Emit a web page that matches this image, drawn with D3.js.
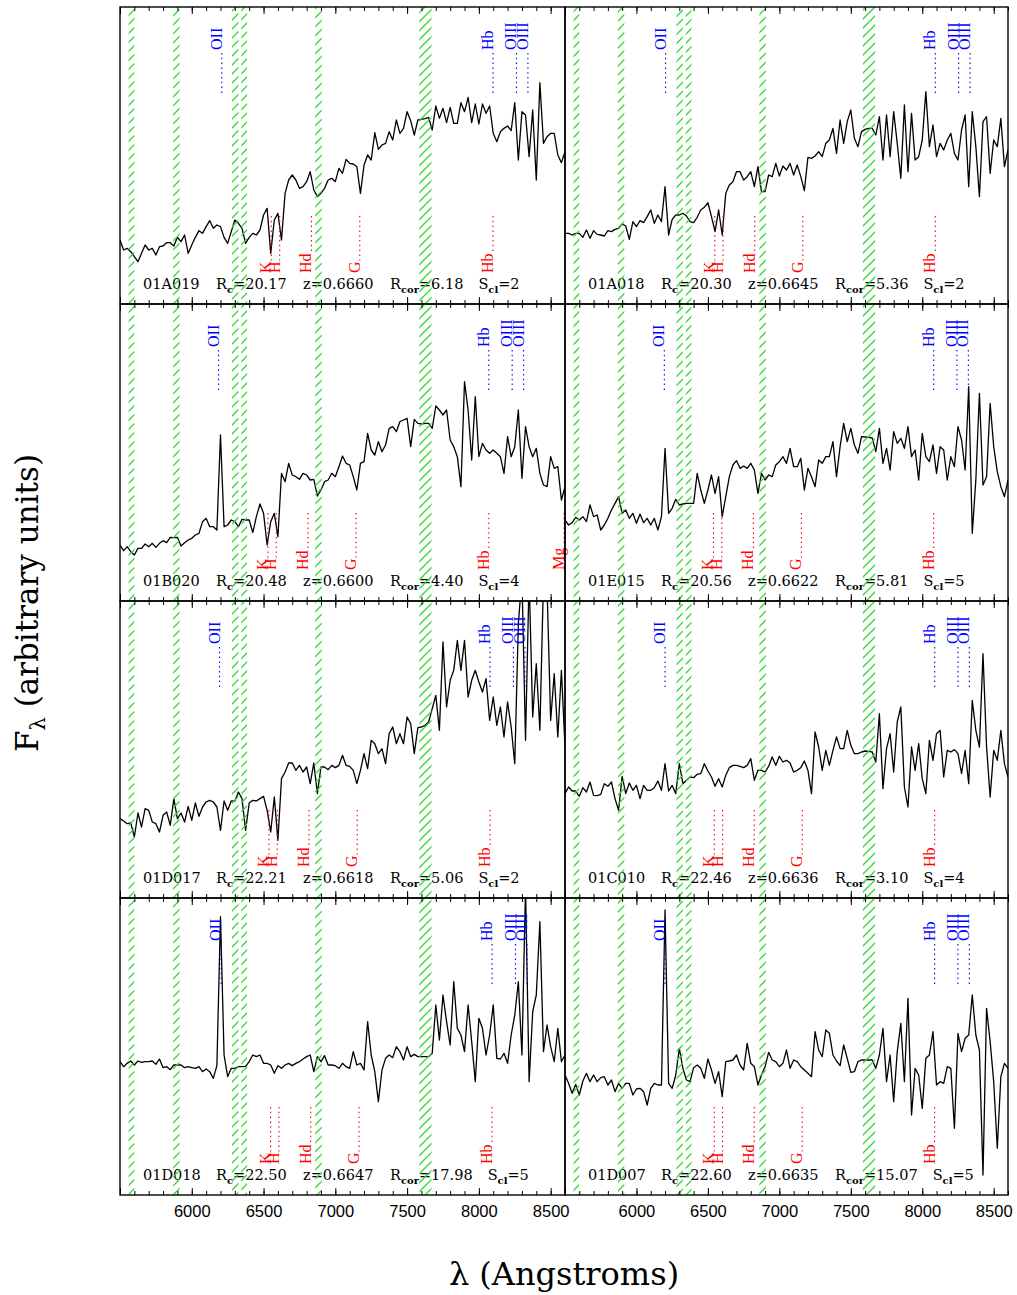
<!DOCTYPE html>
<html>
<head>
<meta charset="utf-8">
<script src="https://cdn.jsdelivr.net/npm/d3@7"></script>
<style>
  body { margin: 0; background: #fff; }
  svg { display: block; }
</style>
</head>
<body>
<svg id="chart" width="1017" height="1295"></svg>
<script>
// Common observed-frame wavelength grid (Angstroms) for all spectra
const wavelength = [
  5500,5525,5550,5575,5600,5625,5650,5675,5700,5725,
  5750,5775,5800,5825,5850,5875,5900,5925,5950,5975,
  6000,6025,6050,6075,6100,6125,6150,6175,6200,6225,
  6250,6275,6300,6325,6350,6375,6400,6425,6450,6475,
  6500,6525,6550,6575,6600,6625,6650,6675,6700,6725,
  6750,6775,6800,6825,6850,6875,6900,6925,6950,6975,
  7000,7025,7050,7075,7100,7125,7150,7175,7200,7225,
  7250,7275,7300,7325,7350,7375,7400,7425,7450,7475,
  7500,7525,7550,7575,7600,7625,7650,7675,7700,7725,
  7750,7775,7800,7825,7850,7875,7900,7925,7950,7975,
  8000,8025,8050,8075,8100,8125,8150,8175,8200,8225,
  8250,8275,8300,8325,8350,8375,8400,8425,8450,8475,
  8500,8525,8550,8575,8600
];

// Fluxes (arbitrary units) on the grid above, one array per galaxy
const flux01A019 = [
  192,162,167,157,142,127,152,177,162,167,
  147,172,174,184,184,174,200,187,207,152,
  177,200,220,212,232,250,227,237,232,200,
  182,217,252,242,227,182,200,212,207,222,
  267,287,152,252,272,192,332,372,387,372,
  347,352,367,397,342,322,332,347,372,377,
  367,407,392,434,422,420,412,332,417,447,
  432,514,464,477,482,517,492,552,512,527,
  577,550,507,552,554,556,560,522,594,557,
  587,544,590,542,542,604,577,620,544,600,
  540,600,572,594,512,487,517,527,534,520,
  604,432,577,567,442,582,372,664,482,502,
  512,512,447,424,457
];
const flux01A018 = [
  212,212,207,212,212,200,222,197,220,209,
  207,204,220,217,224,227,240,234,194,247,
  232,250,244,262,282,242,267,247,352,207,
  254,267,267,272,264,247,244,260,282,290,
  304,262,217,282,207,332,357,367,397,397,
  372,382,397,352,412,337,337,387,382,422,
  384,414,402,422,387,417,382,340,440,437,
  444,457,442,482,492,527,452,552,482,547,
  582,497,472,517,524,527,527,507,562,432,
  567,442,577,482,377,597,397,572,432,442,
  492,637,472,537,442,482,462,492,512,452,
  432,522,567,352,577,472,322,547,562,392,
  492,472,557,412,462
];
const flux01B020 = [
  168,151,163,148,138,158,158,171,163,173,
  161,173,181,175,191,190,191,165,175,183,
  188,198,203,238,248,223,223,213,498,223,
  228,243,238,223,245,243,243,205,253,291,
  263,168,238,263,193,383,358,413,378,373,
  365,383,378,363,365,315,333,358,363,383,
  373,403,435,413,408,373,333,413,418,503,
  453,438,478,448,468,518,523,508,538,543,
  548,463,545,533,531,533,533,518,585,573,
  558,573,483,463,433,343,658,573,423,613,
  433,473,453,443,453,443,433,383,493,433,
  463,573,368,523,463,433,458,383,348,343,
  433,398,403,303,343
];
const flux01E015 = [
  243,228,235,251,243,253,238,288,253,258,
  213,228,248,273,293,313,263,273,248,263,
  233,261,235,248,228,248,213,253,458,263,
  278,305,288,291,293,293,293,383,333,293,
  333,378,323,373,253,313,373,408,421,398,
  405,398,413,393,323,383,363,378,373,408,
  418,433,413,458,403,403,428,333,398,373,
  343,423,413,433,433,478,373,463,533,478,
  518,468,443,493,492,491,489,448,518,413,
  458,393,508,473,488,458,523,433,453,363,
  503,433,418,468,383,463,453,363,433,403,
  523,483,393,643,203,363,623,348,373,593,
  463,388,343,313,363
];
const flux01D017 = [
  238,231,223,225,183,255,213,268,263,228,
  223,198,248,258,218,298,238,255,228,275,
  233,285,245,273,288,293,288,273,203,291,
  263,291,291,318,298,203,285,293,291,298,
  305,263,198,303,173,358,378,405,405,383,
  398,378,393,343,405,313,393,393,385,398,
  391,398,428,398,395,383,343,383,433,388,
  473,463,433,448,403,493,513,463,493,463,
  543,523,433,511,513,518,528,568,608,503,
  768,573,653,683,773,683,773,603,653,683,
  648,618,658,533,603,518,573,483,588,513,
  403,823,963,473,963,543,703,503,953,933,
  533,673,483,683,453
];
const flux01C010 = [
  313,333,321,321,305,331,318,348,308,307,
  311,343,335,348,298,263,365,313,345,323,
  338,298,338,323,323,331,351,323,403,321,
  338,313,403,343,353,363,361,371,373,403,
  381,363,335,358,333,368,391,398,398,395,
  391,398,418,353,383,383,378,395,423,398,
  425,408,413,405,378,383,391,411,383,313,
  498,453,383,443,398,443,483,448,448,503,
  458,433,433,438,441,440,438,408,553,328,
  448,493,378,528,573,333,273,453,383,463,
  358,313,473,413,493,503,363,443,438,445,
  433,373,443,343,593,503,453,733,453,303,
  443,413,503,403,363
];
const flux01D018 = [
  400,385,395,402,390,402,398,400,400,402,
  392,408,382,385,376,390,390,390,382,385,
  382,380,385,370,378,370,350,388,835,420,
  355,380,380,385,385,386,400,420,415,420,
  395,395,390,365,388,380,390,395,388,395,
  400,408,415,420,370,415,400,418,390,390,
  388,380,395,385,380,430,390,395,375,520,
  420,370,280,375,410,420,412,445,430,405,
  445,415,422,415,415,415,415,425,570,465,
  600,520,450,640,500,480,430,570,460,340,
  530,500,420,480,570,410,408,425,395,480,
  540,640,420,920,340,550,600,820,430,510,
  445,400,500,400,420
];
const flux01D007 = [
  360,335,305,332,300,342,365,340,360,340,
  352,355,330,345,310,335,320,335,335,300,
  318,320,310,270,320,335,330,330,855,335,
  320,360,440,380,345,340,382,390,380,350,
  408,375,335,370,295,400,402,405,420,390,
  375,455,395,385,330,360,385,428,405,400,
  385,395,435,380,405,400,385,375,365,355,
  490,435,415,495,485,420,402,388,450,410,
  368,370,400,405,405,405,405,380,420,500,
  340,420,280,430,515,340,590,240,380,360,
  260,410,420,490,330,340,335,385,380,200,
  485,430,470,480,600,480,435,60,560,460,
  340,140,355,395,380
];

// Per-panel catalogue entries (panel order: left-right, top-bottom)
const panelNames = ["01A019","01A018","01B020","01E015","01D017","01C010","01D018","01D007"];
const panelFlux  = [flux01A019, flux01A018, flux01B020, flux01E015, flux01D017, flux01C010, flux01D018, flux01D007];
const rcMag      = [20.17, 20.30, 20.48, 20.56, 22.21, 22.46, 22.50, 22.60];
const redshift   = [0.6660, 0.6645, 0.6600, 0.6622, 0.6618, 0.6636, 0.6647, 0.6635];
const rCor       = [6.18, 5.36, 4.40, 5.81, 5.06, 3.10, 17.98, 15.07];
const sCl        = [2, 2, 4, 5, 2, 4, 5, 5];

// Rest-frame line identifications
const emissionNames   = ["OII", "Hb", "OIII", "OIII"];
const emissionRest    = [3727, 4861, 4959, 5007];
const absorptionNames = ["K", "H", "Hd", "G", "Hb", "Mg"];
const absorptionRest  = [3934, 3969, 4102, 4304, 4861, 5177];

// Night-sky / telluric regions masked with hatching
const skyBands = [[5560,5600],[5870,5915],[6280,6325],[6345,6385],[6860,6905],[7585,7670]];

// Axis ticks
const lambdaDomain = [5500, 8600];
const majorTicks = [5500, 6000, 6500, 7000, 7500, 8000, 8500];
const minorTicks = d3.range(5500, 8601, 100);
const tickLabels = [6000, 6500, 7000, 7500, 8000, 8500];

// ---------------- layout ----------------
const colRange = [[120, 565], [565, 1008]];
const rowTop = [7, 304, 601, 898];
const panelH = 297;
const fluxDomain = [0, 891];

const svg = d3.select("#chart");
const defs = svg.append("defs");
const hatchColor = "#2fd82f";
defs.append("pattern")
  .attr("id", "hatch")
  .attr("patternUnits", "userSpaceOnUse")
  .attr("width", 9).attr("height", 9)
  .append("path")
  .attr("d", "M-1,10 L10,-1 M-1,1 L1,-1 M8,10 L10,8")
  .attr("stroke", hatchColor)
  .attr("stroke-width", 1.3)
  .attr("fill", "none");

const serif = "'DejaVu Serif', serif";
const labelSerif = "'Liberation Serif', 'Times New Roman', serif";
const sans = "'Liberation Sans', Arial, sans-serif";

panelNames.forEach((name, k) => {
  const col = k % 2, row = Math.floor(k / 2);
  const [x0, x1] = colRange[col];
  const top = rowTop[row], bottom = top + panelH;
  const x = d3.scaleLinear().domain(lambdaDomain).range([x0, x1]);
  const y = d3.scaleLinear().domain(fluxDomain).range([bottom, top]);
  const z = redshift[k];
  const g = svg.append("g");

  const clipId = "clip" + k;
  defs.append("clipPath").attr("id", clipId)
    .append("rect").attr("x", x0).attr("y", top).attr("width", x1 - x0).attr("height", panelH);

  // spectrum
  const line = d3.line().x(d => x(d[0])).y(d => y(d[1]));
  g.append("path")
    .datum(wavelength.map((w, i) => [w, panelFlux[k][i]]))
    .attr("clip-path", `url(#${clipId})`)
    .attr("d", line)
    .attr("fill", "none")
    .attr("stroke", "#000")
    .attr("stroke-width", 1.3)
    .attr("stroke-linejoin", "round");

  // emission line markers (top, blue)
  emissionNames.forEach((lab, j) => {
    const w = emissionRest[j] * (1 + z);
    if (w < lambdaDomain[0] || w > lambdaDomain[1]) return;
    const xp = x(w);
    g.append("line")
      .attr("x1", xp).attr("x2", xp)
      .attr("y1", top + 46).attr("y2", top + 89)
      .attr("stroke", "#0000ff").attr("stroke-width", 1.1)
      .attr("stroke-dasharray", "1.5,3.3");
    g.append("text")
      .attr("transform", `translate(${xp},${top + 43}) rotate(-90)`)
      .attr("font-family", labelSerif).attr("font-size", 16)
      .attr("fill", "#0000ff")
      .text(lab);
  });

  // absorption line markers (bottom, red)
  absorptionNames.forEach((lab, j) => {
    const w = absorptionRest[j] * (1 + z);
    if (w < lambdaDomain[0] || w > lambdaDomain[1]) return;
    const xp = x(w);
    const t = g.append("text")
      .attr("transform", `translate(${xp},${top + 266}) rotate(-90)`)
      .attr("font-family", labelSerif).attr("font-size", 16)
      .attr("fill", "#ff0000")
      .text(lab);
    const len = t.node().getComputedTextLength();
    g.append("line")
      .attr("x1", xp).attr("x2", xp)
      .attr("y1", top + 209).attr("y2", top + 266 - len - 1)
      .attr("stroke", "#ff0000").attr("stroke-width", 1.1)
      .attr("stroke-dasharray", "1.5,3.3");
  });

  // catalogue annotation
  const baseY = top + 282;
  function field(xp, parts) {
    const t = g.append("text")
      .attr("x", xp).attr("y", baseY)
      .attr("font-family", serif).attr("font-size", 14.5)
      .attr("fill", "#000");
    let lowered = false;
    parts.forEach(([s, sub]) => {
      const sp = t.append("tspan").text(s);
      if (sub) { sp.attr("font-size", 10).attr("font-weight", "bold").attr("dy", 3.5); lowered = true; }
      else if (lowered) { sp.attr("dy", -3.5); lowered = false; }
    });
    return t;
  }
  field(x0 + 23, [[name]]);
  field(x0 + 96, [["R"], ["c", true], ["=" + rcMag[k].toFixed(2)]]);
  field(x0 + 183, [["z=" + z.toFixed(4)]]);
  const rc = field(x0 + 270, [["R"], ["cor", true], ["=" + rCor[k].toFixed(2)]]);
  const rcW = rc.node().getComputedTextLength();
  field(x0 + 270 + rcW + 15, [["S"], ["cl", true], ["=" + sCl[k]]]);

  // masked sky regions
  skyBands.forEach(([a, b]) => {
    g.append("rect")
      .attr("x", x(a)).attr("y", top)
      .attr("width", x(b) - x(a)).attr("height", panelH)
      .attr("fill", "url(#hatch)");
  });

  // ticks on top and bottom edges
  const tickStyle = sel => {
    sel.select(".domain").remove();
    sel.selectAll(".tick line").attr("stroke", "#000").attr("stroke-width", 1);
  };
  g.append("g").attr("transform", `translate(0,${bottom})`)
    .call(d3.axisBottom(x).tickValues(majorTicks).tickSize(-7).tickFormat(""))
    .call(tickStyle);
  g.append("g").attr("transform", `translate(0,${bottom})`)
    .call(d3.axisBottom(x).tickValues(minorTicks).tickSize(-4).tickFormat(""))
    .call(tickStyle);
  g.append("g").attr("transform", `translate(0,${top})`)
    .call(d3.axisTop(x).tickValues(majorTicks).tickSize(-7).tickFormat(""))
    .call(tickStyle);
  g.append("g").attr("transform", `translate(0,${top})`)
    .call(d3.axisTop(x).tickValues(minorTicks).tickSize(-4).tickFormat(""))
    .call(tickStyle);

  // tick labels below the bottom row
  if (row === 3) {
    const ax = g.append("g").attr("transform", `translate(0,${bottom})`)
      .call(d3.axisBottom(x).tickValues(tickLabels).tickSize(0).tickPadding(10).tickFormat(d3.format("d")));
    ax.select(".domain").remove();
    ax.selectAll("text").attr("font-family", sans).attr("font-size", 16.5).attr("fill", "#000");
  }

  // frame
  g.append("rect")
    .attr("x", x0).attr("y", top)
    .attr("width", x1 - x0).attr("height", panelH)
    .attr("fill", "none").attr("stroke", "#000").attr("stroke-width", 1.4);
});

// axis titles
svg.append("text")
  .attr("x", 564).attr("y", 1285)
  .attr("text-anchor", "middle")
  .attr("font-family", serif).attr("font-size", 32)
  .text("λ (Angstroms)");

const yt = svg.append("text")
  .attr("transform", "translate(38,603) rotate(-90)")
  .attr("text-anchor", "middle")
  .attr("font-family", serif).attr("font-size", 31);
yt.append("tspan").text("F");
yt.append("tspan").text("λ").attr("font-size", 21).attr("dy", 7);
yt.append("tspan").text(" (arbitrary units)").attr("dy", -7);
</script>
</body>
</html>
